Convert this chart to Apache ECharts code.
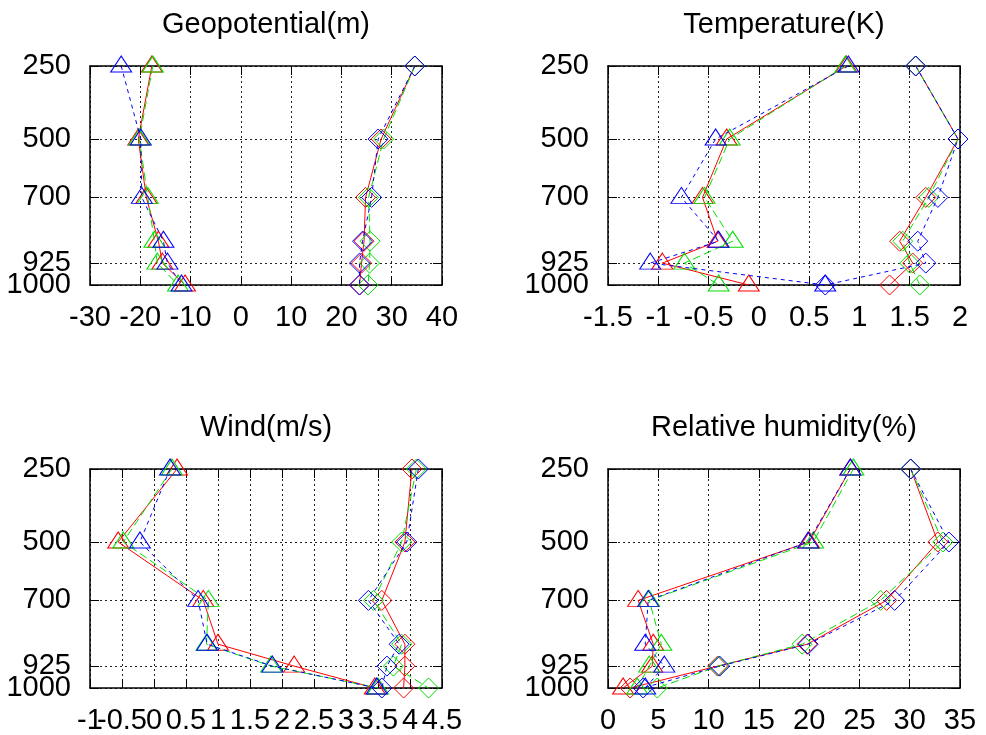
<!DOCTYPE html>
<html>
<head>
<meta charset="utf-8">
<title>profiles</title>
<script src="https://cdn.jsdelivr.net/npm/echarts@6.0.0/dist/echarts.min.js"></script>
<style>
html, body { margin: 0; padding: 0; background: #fff; }
#main { width: 986px; height: 735px; }
</style>
</head>
<body>
<div id="main"></div>
<script>
// pressure levels (hPa)
var levels = [250, 500, 700, 850, 925, 1000];
var yTicksA = [250, 500, 700, 925];
var yTicksB = [1000];

// Geopotential(m)
var geoTicksA = [-30, -10, 10, 30];
var geoTicksB = [-20, 0, 20, 40];
var geoRedTri   = [-17.7, -20.4, -18.8, -16.4, -15.6, -11.1];
var geoGreenTri = [-17.5, -20.2, -18.5, -17.2, -16.6, -12.5];
var geoBlueTri  = [-23.8, -19.9, -19.7, -15.4, -14.6, -11.8];
var geoRedDia   = [34.6, 27.9, 24.8, 24.5, 24.0, 23.6];
var geoGreenDia = [34.6, 28.4, 25.4, 25.7, 25.6, 25.3];
var geoBlueDia  = [34.6, 27.3, 26.0, 24.2, 23.6, 23.6];

// Temperature(K)
var tmpTicksA = [-1.5, -0.5, 0.5, 1.5];
var tmpTicksB = [-1, 0, 1, 2];
var tmpRedTri   = [0.87, -0.32, -0.56, -0.41, -0.96, -0.10];
var tmpGreenTri = [0.86, -0.29, -0.54, -0.26, -0.74, -0.40];
var tmpBlueTri  = [0.89, -0.43, -0.77, -0.40, -1.08, 0.66];
var tmpRedDia   = [1.56, 1.98, 1.66, 1.40, 1.53, 1.30];
var tmpGreenDia = [1.56, 1.98, 1.69, 1.43, 1.50, 1.60];
var tmpBlueDia  = [1.56, 1.98, 1.78, 1.58, 1.66, 0.66];

// Wind(m/s)
var wndTicksA = [-1, 0, 1, 2, 3, 4];
var wndTicksB = [-0.5, 0.5, 1.5, 2.5, 3.5, 4.5];
var wndRedTri   = [0.36, -0.56, 0.77, 1.00, 2.19, 3.45];
var wndGreenTri = [0.28, -0.48, 0.85, 0.82, 1.83, 3.50];
var wndBlueTri  = [0.25, -0.22, 0.69, 0.83, 1.85, 3.48];
var wndRedDia   = [4.03, 3.92, 3.56, 3.92, 3.92, 3.90];
var wndGreenDia = [4.10, 3.87, 3.43, 3.87, 3.74, 4.29];
var wndBlueDia  = [4.13, 3.95, 3.35, 3.83, 3.64, 3.56];

// Relative humidity(%)
var rhTicksA = [0, 10, 20, 30];
var rhTicksB = [5, 15, 25, 35];
var rhRedTri   = [24.1, 20.0, 3.0, 4.5, 4.4, 1.5];
var rhGreenTri = [24.4, 20.4, 4.1, 5.3, 4.1, 2.9];
var rhBlueTri  = [24.1, 19.9, 4.0, 3.7, 5.6, 3.7];
var rhRedDia   = [30.1, 32.8, 27.7, 19.8, 10.9, 2.2];
var rhGreenDia = [30.1, 33.3, 27.1, 19.3, 11.0, 4.9];
var rhBlueDia  = [30.1, 33.9, 28.5, 19.9, 11.1, 3.5];

var panels = [
  { title: 'Geopotential(m)', min: -30, max: 40, interval: 10, ticks: [geoTicksA, geoTicksB],
    sets: [geoRedTri, geoGreenTri, geoBlueTri, geoRedDia, geoGreenDia, geoBlueDia] },
  { title: 'Temperature(K)', min: -1.5, max: 2, interval: 0.5, ticks: [tmpTicksA, tmpTicksB],
    sets: [tmpRedTri, tmpGreenTri, tmpBlueTri, tmpRedDia, tmpGreenDia, tmpBlueDia] },
  { title: 'Wind(m/s)', min: -1, max: 4.5, interval: 0.5, ticks: [wndTicksA, wndTicksB],
    sets: [wndRedTri, wndGreenTri, wndBlueTri, wndRedDia, wndGreenDia, wndBlueDia] },
  { title: 'Relative humidity(%)', min: 0, max: 35, interval: 5, ticks: [rhTicksA, rhTicksB],
    sets: [rhRedTri, rhGreenTri, rhBlueTri, rhRedDia, rhGreenDia, rhBlueDia] }
];

var FONT = 'Liberation Sans, Arial, sans-serif';
var colors = ['#ff0000', '#00e000', '#0000ff'];
var dashes = ['solid', [8, 4], [4, 4]];
var pos = [[90, 66], [608, 66], [90, 469], [608, 469]];

var grids = [], xAxes = [], yAxes = [], titles = [], series = [];

function plain(v) { return String(v); }

panels.forEach(function (p, i) {
  grids.push({ left: pos[i][0], top: pos[i][1], width: 352, height: 219, outerBoundsMode: 'none' });
  titles.push({
    text: p.title, left: pos[i][0] + 176, top: pos[i][1] - 56, textAlign: 'center', padding: 0,
    textStyle: { fontFamily: FONT, fontSize: 29, fontWeight: 'normal', color: '#000' }
  });
  var frame = { show: true, onZero: false, lineStyle: { color: '#000', width: 1.5 } };
  var tick = { show: true, inside: true, length: 9, lineStyle: { color: '#000', width: 1 } };
  var grid = { show: true, lineStyle: { color: '#222', width: 1, type: [2, 3] } };
  var off = { show: false };
  function label(vals, margin) {
    return { fontFamily: FONT, fontSize: 29, color: '#000', margin: margin, formatter: plain,
      customValues: vals, showMinLabel: true, showMaxLabel: true, hideOverlap: false };
  }
  var xBase = { gridIndex: i, type: 'value', min: p.min, max: p.max, interval: p.interval };
  var yBase = { gridIndex: i, type: 'value', inverse: true, min: 250, max: 1000 };
  var yTickAll = Object.assign({ customValues: yTicksA.concat(yTicksB) }, tick);

  // bottom axis with frame, ticks, grid and half the labels
  xAxes.push(Object.assign({ position: 'bottom', axisLine: frame, axisTick: tick, splitLine: grid,
    axisLabel: label(p.ticks[0], 18) }, xBase));
  // top mirror
  xAxes.push(Object.assign({ position: 'top', axisLine: frame, axisTick: tick, splitLine: off,
    axisLabel: off }, xBase));
  // bottom, other half of labels only
  xAxes.push(Object.assign({ position: 'bottom', axisLine: off, axisTick: off, splitLine: off,
    axisLabel: label(p.ticks[1], 18) }, xBase));

  yAxes.push(Object.assign({ position: 'left', axisLine: frame, axisTick: yTickAll, splitLine: grid,
    axisLabel: label(yTicksA, 19) }, yBase));
  yAxes.push(Object.assign({ position: 'right', axisLine: frame, axisTick: yTickAll, splitLine: off,
    axisLabel: off }, yBase));
  yAxes.push(Object.assign({ position: 'left', axisLine: off, axisTick: off, splitLine: off,
    axisLabel: label(yTicksB, 19) }, yBase));

  p.sets.forEach(function (vals, k) {
    var c = k % 3;
    var tri = k < 3;
    series.push({
      type: 'line',
      xAxisIndex: i * 3, yAxisIndex: i * 3,
      data: vals.map(function (v, j) { return [v, levels[j]]; }),
      symbol: tri ? 'triangle' : 'diamond',
      symbolSize: tri ? [21, 16] : [20, 20],
      symbolOffset: tri ? [0, -2] : [0, 0],
      showAllSymbol: true,
      lineStyle: { color: colors[c], width: 1, type: dashes[c] },
      itemStyle: { color: 'rgba(0,0,0,0)', borderColor: colors[c], borderWidth: 1 },
      silent: true,
      z: 2 + c
    });
  });
});

var chart = echarts.init(document.getElementById('main'));
chart.setOption({
  animation: false,
  backgroundColor: '#fff',
  title: titles,
  grid: grids,
  xAxis: xAxes,
  yAxis: yAxes,
  series: series
});
window.onresize = function () { chart.resize(); };
</script>
</body>
</html>
